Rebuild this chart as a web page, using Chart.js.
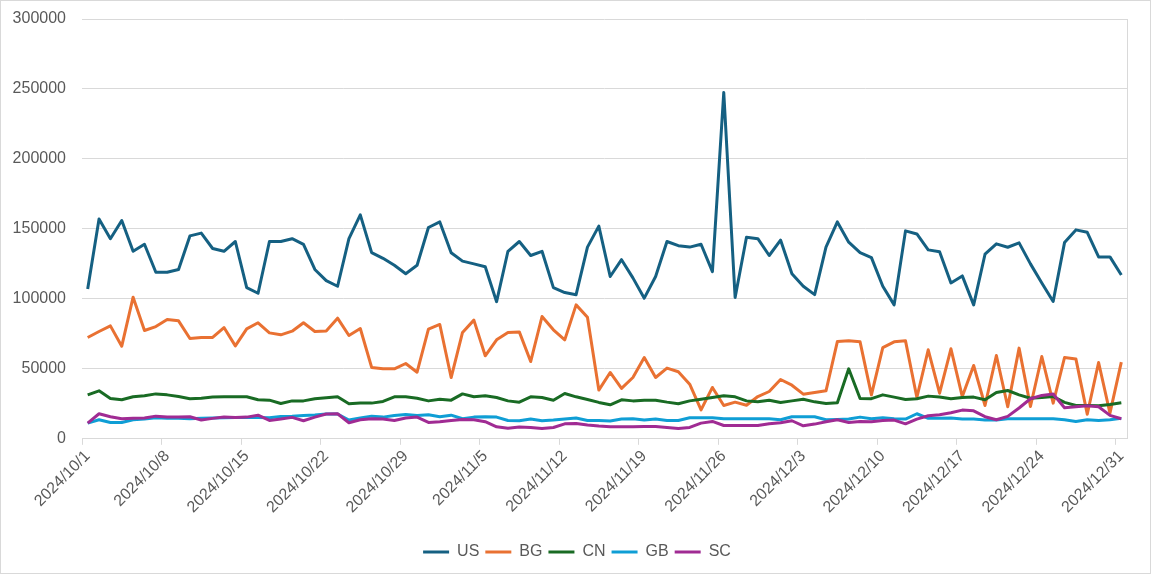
<!DOCTYPE html>
<html lang="en">
<head>
  <meta charset="UTF-8" />
  <title>Daily volume by market</title>
  <script src="https://cdn.jsdelivr.net/npm/chart.js"></script>
  <style>
    body {
      margin: 0;
      background: #fff;
    }
    .chart-box {
      position: relative;
      width: 1151px;
      height: 574px;
      box-sizing: border-box;
      border: 1px solid #d9d9d9;
    }
  </style>
</head>
<body>

<div class="chart-box">
  <canvas id="lineChart"></canvas>
</div>

<script>
// one category per day, 2024/10/1 .. 2024/12/31
const months = [[10, 31], [11, 30], [12, 31]];
const dates = [];
months.forEach(([m, days]) => {
  for (let d = 1; d <= days; d++) dates.push(`2024/${m}/${d}`);
});

const us = [
  107000, 157000, 143000, 156000, 134000, 139000, 119000, 119000, 121000, 145000, 147000, 136000,
  134000, 141000, 108000, 104000, 141000, 141000, 143000, 139000, 121000, 113000, 109000, 143000,
  160000, 133000, 129000, 124000, 118000, 124000, 151000, 155000, 133000, 127000, 125000, 123000,
  98000, 134000, 141000, 131000, 134000, 108000, 104500, 103000, 137000, 152000,
  116000, 128000, 115000, 100500, 116000, 141000, 138000, 137000, 139000, 119500, 247500, 101000,
  144000, 143000, 131000, 142000, 118000, 109000, 103000, 137000, 155000, 140500, 133000,
  129500, 109000, 95700, 148600, 146400, 135000, 133600, 111400, 116400, 95700, 131900, 139300,
  136900, 140000, 125000, 111400, 98100, 140200, 149300, 147600, 130000, 130000, 117000
];
const bg = [
  72400, 76700, 80700, 66200, 101200, 77400, 80200, 85200, 84300, 71700, 72400, 72400,
  79500, 66400, 78600, 82900, 75700, 74300, 76900, 82900, 76700, 77100, 86200, 73800,
  78800, 51000, 50000, 50000, 53800, 47600, 78300, 81700, 43800, 76000, 84800, 59300,
  70700, 76000, 76400, 55200, 87400, 77900, 70700, 95700, 86900, 34800,
  47400, 36000, 43800, 58100, 43800, 50500, 47900, 39000, 20700, 36700, 23800, 26200,
  24000, 30200, 33800, 42400, 38300, 31900, 33100, 34300, 69500, 70000, 69300,
  31400, 65200, 69300, 70000, 29500, 63600, 32600, 64300, 30200, 52400, 23800, 59500,
  22900, 64800, 23100, 58800, 25500, 58100, 57100, 17600, 54500, 18300, 54800
];
const cn = [
  31400, 34300, 28800, 27900, 30000, 30700, 32100, 31400, 30200, 28600, 29000, 29800,
  30000, 30000, 30000, 27900, 27600, 25200, 27100, 27100, 28600, 29300, 30000, 25000,
  25500, 25500, 26700, 30000, 30000, 29000, 27100, 28300, 27600, 32100, 30000, 30700,
  29500, 27100, 26200, 30000, 29500, 27600, 32400, 30000, 28100, 26000,
  24300, 27900, 27100, 27600, 27600, 26200, 25000, 27100, 28300, 29500, 30700, 30000,
  27100, 26400, 27600, 26000, 27100, 28300, 26400, 25200, 25700, 50000, 28800,
  28700, 31400, 29800, 28100, 28600, 30500, 29800, 28600, 29500, 29800, 27900, 33100,
  34500, 31400, 29000, 29500, 30200, 26000, 23800, 23800, 23600, 24500, 25700
];
const gb = [
  11200, 13600, 11700, 11700, 13600, 14100, 15000, 14600, 14600, 14300, 14600, 14800,
  15000, 15300, 15300, 15300, 15000, 16000, 16200, 16700, 17000, 17700, 17700, 13400,
  14800, 16200, 15500, 16700, 17400, 16700, 17200, 15800, 16900, 14300, 15500, 15800,
  15500, 13100, 12900, 14100, 12900, 13400, 14100, 14800, 13100, 13100,
  12700, 14100, 14300, 13400, 14100, 13100, 13100, 15000, 15000, 15000, 14300, 14300,
  14300, 14300, 14300, 13600, 15800, 15800, 15800, 13600, 13800, 14100, 15500,
  14300, 15000, 14300, 14100, 17900, 14600, 14600, 14800, 14100, 14100, 13400, 13400,
  14300, 14300, 14300, 14300, 14300, 13600, 12400, 13600, 13100, 13600, 14600
];
const sc = [
  11200, 17900, 15800, 14300, 14600, 14800, 16200, 15500, 15500, 15800, 13400, 14600,
  15500, 15300, 15500, 16900, 13100, 14100, 15300, 12900, 15500, 17700, 17900, 11500,
  13600, 14300, 14100, 13100, 14800, 15500, 11700, 12200, 13100, 13800, 13600, 12200,
  8600, 7600, 8400, 8100, 7400, 8100, 10700, 11000, 9800, 9100,
  8600, 8600, 8600, 8800, 8800, 8100, 7400, 8100, 11200, 12400, 9500, 9500,
  9500, 9500, 10700, 11500, 12900, 9300, 10500, 12200, 13600, 11700, 12400,
  12200, 13100, 13400, 10700, 14100, 16500, 17200, 18600, 20500, 20000, 15800, 13600,
  16000, 22000, 28600, 31000, 32000, 22200, 22900, 23600, 22900, 16700, 14300
];

const seriesNames = ["US", "BG", "CN", "GB", "SC"];
const seriesData = [us, bg, cn, gb, sc];
const seriesColors = ["#156082", "#e97132", "#196b24", "#0f9ed5", "#a02b93"];

const textColor = "#595959";
const gridColor = "#d9d9d9";
Chart.defaults.font.family = "'Liberation Sans', Arial, sans-serif";
Chart.defaults.font.size = 16;
Chart.defaults.color = textColor;

// thin line on the right edge of the plot area
const rightEdge = {
  id: "rightEdge",
  beforeDatasetsDraw(chart) {
    const { ctx, chartArea } = chart;
    ctx.save();
    ctx.strokeStyle = gridColor;
    ctx.lineWidth = 1;
    ctx.beginPath();
    ctx.moveTo(Math.round(chartArea.right) + 0.5, chartArea.top);
    ctx.lineTo(Math.round(chartArea.right) + 0.5, chartArea.bottom);
    ctx.stroke();
    ctx.restore();
  }
};

const datasets = seriesNames.map((name, i) => ({
  label: name,
  data: seriesData[i],
  borderColor: seriesColors[i],
  backgroundColor: seriesColors[i],
  borderWidth: 3,
  pointRadius: 0,
  tension: 0,
  borderJoinStyle: "round",
  order: seriesNames.length - i   // later series drawn on top, like the original
}));

new Chart(document.getElementById("lineChart"), {
  type: "line",
  data: { labels: dates, datasets: datasets },
  options: {
    responsive: true,
    maintainAspectRatio: false,
    animation: false,
    devicePixelRatio: 1,
    layout: { padding: { top: 18, left: 12, right: 9, bottom: 3 } },
    plugins: {
      tooltip: { enabled: false },
      legend: {
        position: "bottom",
        labels: {
          usePointStyle: true,
          pointStyle: "line",
          pointStyleWidth: 26,
          padding: 6,
          color: textColor,
          font: { size: 16 },
          sort: (a, b) => a.datasetIndex - b.datasetIndex
        }
      }
    },
    scales: {
      x: {
        offset: true,
        afterFit: (s) => { s.paddingLeft = 0; s.paddingRight = 0; },
        grid: {
          offset: true,
          drawOnChartArea: false,
          tickLength: 6,
          color: (c) => (c.index % 7 === 0 ? gridColor : "rgba(0,0,0,0)")
        },
        border: { display: true, color: gridColor },
        ticks: {
          autoSkip: false,
          minRotation: 45,
          maxRotation: 45,
          padding: 2,
          color: textColor,
          callback: function (value, index) {
            return index % 7 === 0 ? this.getLabelForValue(value) : "";
          }
        },
        // empty title only keeps a gap between the date labels and the legend
        title: { display: true, text: "", font: { size: 10, lineHeight: 1 }, padding: { top: 9, bottom: 0 } }
      },
      y: {
        min: 0,
        max: 300000,
        afterFit: (s) => { s.width = 69; s.paddingTop = 0; s.paddingBottom = 0; },
        ticks: { stepSize: 50000, padding: 16, color: textColor, callback: (v) => String(v) },
        grid: { color: gridColor, drawTicks: false },
        border: { display: false }
      },
      // empty right-hand strip, keeps the legend centred like the original
      spacer: {
        position: "right",
        afterFit: (s) => { s.width = 14; },
        ticks: { display: false },
        grid: { display: false },
        border: { display: false }
      }
    }
  },
  plugins: [rightEdge]
});
</script>

</body>
</html>
